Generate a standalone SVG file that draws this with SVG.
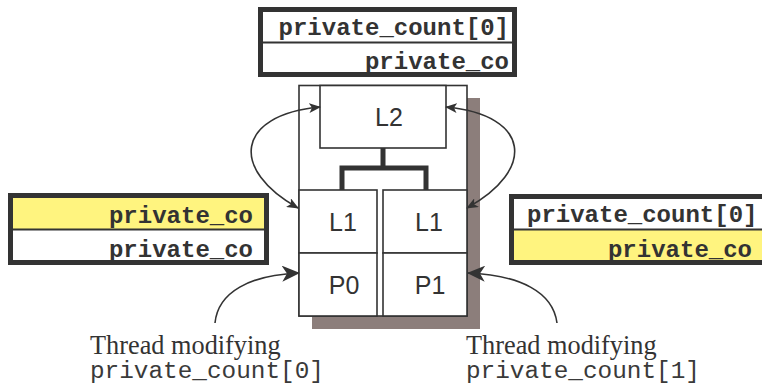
<svg xmlns="http://www.w3.org/2000/svg" width="762" height="387" viewBox="0 0 762 387">
  <style>
    .var { fill: #fff; stroke: #333; stroke-width: 5; }
    .hi { fill: #fff47f; }
    .div { stroke: #333; stroke-width: 2; }
    .cell { fill: #fff; stroke: #333; stroke-width: 1.6; }
    .mono-b { font-family: "Liberation Mono", monospace; font-weight: bold; font-size: 24px; fill: #333; }
    .mono { font-family: "Liberation Mono", monospace; font-size: 23px; fill: #3a3a3a; }
    .serif { font-family: "Liberation Serif", serif; font-size: 26.3px; fill: #333; }
    .lbl { font-family: "Liberation Sans", Arial, sans-serif; font-size: 25px; fill: #333; text-anchor: middle; }
    .arc { fill: none; stroke: #333; stroke-width: 1.6; }
  </style>
  <defs>
    <marker id="tip" viewBox="0 0 12 10" refX="11" refY="5" markerWidth="12" markerHeight="10" markerUnits="userSpaceOnUse" orient="auto-start-reverse">
      <path d="M0,0 L12,5 L0,10 L3,5 z" fill="#333"/>
    </marker>
    <marker id="tipBig" viewBox="0 0 18 16" refX="17" refY="8" markerWidth="18" markerHeight="16" markerUnits="userSpaceOnUse" orient="auto">
      <path d="M0,0 L18,8 L0,16 L5,8 z" fill="#333"/>
    </marker>
  </defs>

  <!-- cache line held by the shared L2 -->
  <g id="line-l2">
    <rect class="var" x="260.5" y="9.5" width="254" height="65"/>
    <line class="div" x1="263" y1="42.5" x2="512" y2="42.5"/>
    <text class="mono-b" x="509" y="35" text-anchor="end">private_count[0]</text>
    <text class="mono-b" x="509" y="69" text-anchor="end">private_co</text>
  </g>

  <!-- cache line held by the left L1 -->
  <g id="line-l1-left">
    <rect class="var" x="10.5" y="195.5" width="256" height="67"/>
    <rect class="hi" x="13" y="198" width="251" height="31"/>
    <line class="div" x1="13" y1="229.5" x2="264" y2="229.5"/>
    <text class="mono-b" x="253" y="223" text-anchor="end">private_co</text>
    <text class="mono-b" x="253" y="257" text-anchor="end">private_co</text>
  </g>

  <!-- cache line held by the right L1 -->
  <g id="line-l1-right">
    <rect class="var" x="511.5" y="196.5" width="270" height="66"/>
    <rect class="hi" x="514" y="230" width="260" height="30"/>
    <line class="div" x1="514" y1="229.5" x2="770" y2="229.5"/>
    <text class="mono-b" x="527" y="222">private_count[0]</text>
    <text class="mono-b" x="752" y="257" text-anchor="end">private_co</text>
  </g>

  <!-- processor package -->
  <g id="chip">
    <rect x="312" y="98" width="168" height="231" fill="#8c7e7b"/>
    <rect class="cell" x="299" y="85.5" width="168" height="230.5"/>
  </g>
  <g id="l2">
    <rect class="cell" x="320" y="85.5" width="126" height="62.5"/>
    <text class="lbl" x="389" y="126">L2</text>
  </g>
  <g id="l1-left">
    <rect class="cell" x="299" y="190" width="78" height="63"/>
    <text class="lbl" x="343" y="231">L1</text>
  </g>
  <g id="l1-right">
    <rect class="cell" x="383" y="190" width="84" height="63"/>
    <text class="lbl" x="429" y="231">L1</text>
  </g>
  <g id="p0">
    <rect class="cell" x="299" y="253" width="78" height="63"/>
    <text class="lbl" x="344" y="294">P0</text>
  </g>
  <g id="p1">
    <rect class="cell" x="383" y="253" width="84" height="63"/>
    <text class="lbl" x="430" y="294">P1</text>
  </g>

  <!-- captions -->
  <g id="thread-0">
    <text class="serif" x="90" y="354">Thread modifying</text>
    <text class="mono" x="90" y="378" textLength="234" lengthAdjust="spacingAndGlyphs">private_count[0]</text>
  </g>
  <g id="thread-1">
    <text class="serif" x="466" y="354">Thread modifying</text>
    <text class="mono" x="466" y="378" textLength="234" lengthAdjust="spacingAndGlyphs">private_count[1]</text>
  </g>

  <!-- connectors -->
  <g id="connectors">
    <path d="M383,148 V168 M342,190 V168 H426 V190" fill="none" stroke="#333" stroke-width="5" stroke-linejoin="miter"/>
    <path class="arc" d="M298,208 C230,170 235,115 320,107" marker-start="url(#tip)" marker-end="url(#tip)"/>
    <path class="arc" d="M467,208 C536,170 531,115 446,107" marker-start="url(#tip)" marker-end="url(#tip)"/>
    <path class="arc" d="M215,323 C218,292 250,275 299,273" marker-end="url(#tipBig)"/>
    <path class="arc" d="M557,323 C553,292 520,275 468,273" marker-end="url(#tipBig)"/>
  </g>
</svg>
